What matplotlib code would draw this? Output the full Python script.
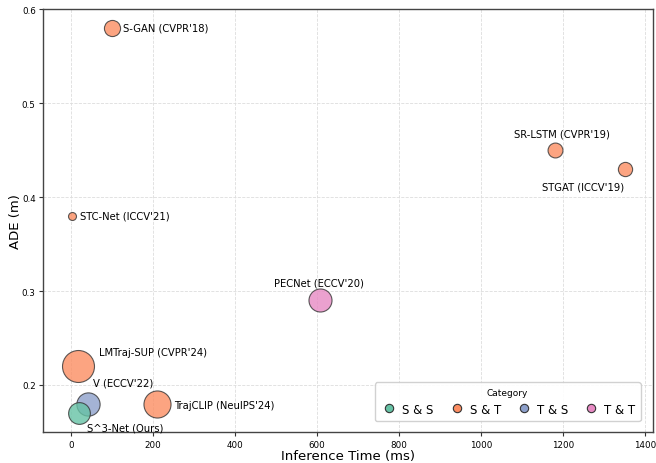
import matplotlib.pyplot as plt
from matplotlib.lines import Line2D

# methods, inference time (ms), ADE (m), category
methods = ["S-GAN (CVPR'18)", "SR-LSTM (CVPR'19)", "STGAT (ICCV'19)",
           "PECNet (ECCV'20)", "STC-Net (ICCV'21)", "LMTraj-SUP (CVPR'24)",
           "TrajCLIP (NeuIPS'24)", "V (ECCV'22)", "S^3-Net (Ours)"]
infer_time = [100, 1180, 1350, 608, 2, 18, 211, 43, 20]
ade = [0.58, 0.45, 0.43, 0.29, 0.38, 0.22, 0.18, 0.18, 0.17]
category = ["S & T", "S & T", "S & T", "T & T", "S & T", "S & T",
            "S & T", "T & S", "S & S"]
bubble = [135, 115, 105, 275, 33, 530, 380, 280, 245]

categories = ["S & S", "S & T", "T & S", "T & T"]
palette = {"S & S": "#66c2a5", "S & T": "#fc8d62",
           "T & S": "#8da0cb", "T & T": "#e78ac3"}

# label offsets in points, plus alignment
label_pos = {
    "S-GAN (CVPR'18)": ((8, 0), "left", "center"),
    "SR-LSTM (CVPR'19)": ((5, 12), "center", "center"),
    "STGAT (ICCV'19)": ((-30, -13), "center", "center"),
    "PECNet (ECCV'20)": ((-1, 13), "center", "center"),
    "STC-Net (ICCV'21)": ((6, 0), "left", "center"),
    "LMTraj-SUP (CVPR'24)": ((15, 10), "left", "center"),
    "TrajCLIP (NeuIPS'24)": ((12, -1), "left", "center"),
    "V (ECCV'22)": ((3, 15), "left", "center"),
    "S^3-Net (Ours)": ((6, -10), "left", "center"),
}

fig = plt.figure(figsize=(6.56, 4.64), dpi=100)
ax = fig.add_axes([0.066, 0.067, 0.929, 0.911])

for m, t, a, c, s in zip(methods, infer_time, ade, category, bubble):
    ax.scatter(t, a, s=s, color=palette[c], alpha=0.8,
               edgecolor="#333333", linewidth=0.8, zorder=3)
    off, ha, va = label_pos[m]
    ax.annotate(m, (t, a), xytext=off, textcoords="offset points",
                ha=ha, va=va, fontsize=7.2, zorder=4)

ax.set_xlim(-67, 1418)
ax.set_ylim(0.15, 0.6)
ax.set_xticks([0, 200, 400, 600, 800, 1000, 1200, 1400])
ax.set_yticks([0.2, 0.3, 0.4, 0.5, 0.6])
ax.tick_params(labelsize=6.3, length=3, width=0.8, color="#333333", pad=2.5)
ax.grid(True, linestyle="--", linewidth=0.6, color="#dddddd", zorder=0)
for sp in ax.spines.values():
    sp.set_color("#444444")
    sp.set_linewidth(1.0)

ax.set_xlabel("Inference Time (ms)", fontsize=9.5, labelpad=0)
ax.set_ylabel("ADE (m)", fontsize=9.5, labelpad=0)

handles = [Line2D([], [], marker="o", linestyle="", markersize=6,
                  markerfacecolor=palette[c], markeredgecolor="#333333",
                  markeredgewidth=0.8, label=c) for c in categories]
leg = ax.legend(handles=handles, title="Category", ncol=4, loc="lower right",
                fontsize=8.5, title_fontsize=6.5, handletextpad=0.3,
                handlelength=1.6, columnspacing=1.15, borderpad=0.45,
                framealpha=0.9, bbox_to_anchor=(0.99, 0.012))

fig.savefig("out.png", dpi=100)
